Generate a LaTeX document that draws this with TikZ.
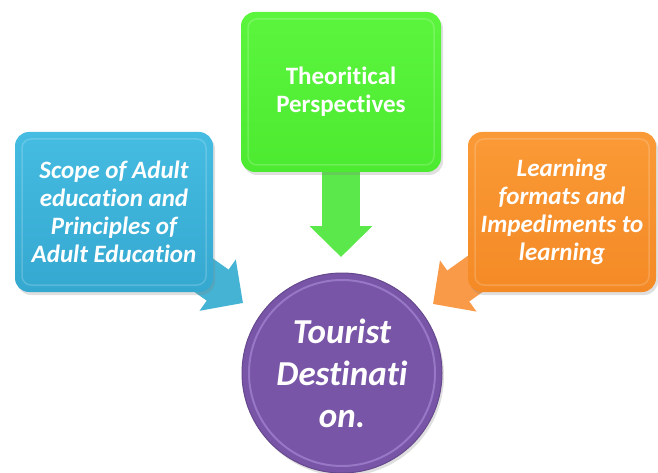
\documentclass[tikz,border=0pt]{standalone}
\usepackage{fontspec}
\setmainfont{Carlito}[Ligatures=CommonOff]
\usetikzlibrary{arrows.meta, shadows, backgrounds}

\definecolor{scopeblue}{HTML}{35A8D0}
\definecolor{scopelight}{HTML}{45BCE2}
\definecolor{scopearrow}{HTML}{45B3D3}
\definecolor{theorygreen}{HTML}{4CEA30}
\definecolor{theorylight}{HTML}{5CF53E}
\definecolor{theoryarrow}{HTML}{5BE84A}
\definecolor{formatorange}{HTML}{F48A26}
\definecolor{formatlight}{HTML}{FA9A36}
\definecolor{formatarrow}{HTML}{F89A48}
\definecolor{destpurple}{HTML}{7855A6}
\definecolor{destring}{HTML}{9878C6}

\begin{document}
\begin{tikzpicture}[x=1pt, y=-1pt, every node/.style={text=white, align=center},
    bevelbox/.style={rounded corners=14pt, minimum height=160pt,
      drop shadow={opacity=0.25, shadow xshift=2pt, shadow yshift=-3pt},
      path picture={\draw[white, opacity=0.18, line width=1.5pt, rounded corners=9pt]
        ([shift={(7pt,-7pt)}]path picture bounding box.north west) rectangle
        ([shift={(-7pt,7pt)}]path picture bounding box.south east);}},
    boxtext/.style={font=\bfseries\itshape\fontsize{25}{28}\selectfont},
    blockarrow/.style={line width=38pt, -{Triangle[length=31pt, width=61pt]}}]
  \useasboundingbox (0,0) rectangle (658,473);

  % Three topic boxes
  \node[bevelbox, boxtext, minimum width=198pt, top color=scopelight, bottom color=scopeblue] (scope) at (114,212)
    {Scope of Adult\\education and\\Principles of\\Adult Education};
  \node[bevelbox, font=\bfseries\fontsize{25}{28}\selectfont, minimum width=200pt, top color=theorylight, bottom color=theorygreen] (theory) at (341,92)
    {Theoritical\\Perspectives};
  \node[bevelbox, boxtext, minimum width=188pt, top color=formatlight, bottom color=formatorange] (formats) at (562,212)
    {Learning\\formats and\\Impediments to\\learning};

  % Centre circle
  \node[circle, minimum size=200pt, fill=destpurple, draw=destpurple!85!black, line width=1pt,
    drop shadow={opacity=0.25, shadow xshift=2pt, shadow yshift=-3pt},
    path picture={\draw[destring, line width=2pt] (path picture bounding box.center) circle (93pt);},
    font=\bfseries\itshape\fontsize{35}{42}\selectfont] (destination) at (342,373)
    {Tourist\\Destinati\\on.};

  % Arrow tips
  \coordinate (scopetip) at (243,303);
  \coordinate (theorytip) at (341,257);
  \coordinate (formatstip) at (433,304);

  % Block arrows behind the boxes
  \begin{scope}[on background layer]
    \draw[blockarrow, scopearrow] (scope.center) -- (scopetip);
    \draw[blockarrow, theoryarrow] (theory.center) -- (theorytip);
    \draw[blockarrow, formatarrow] (formats.center) -- (formatstip);
  \end{scope}
\end{tikzpicture}
\end{document}
